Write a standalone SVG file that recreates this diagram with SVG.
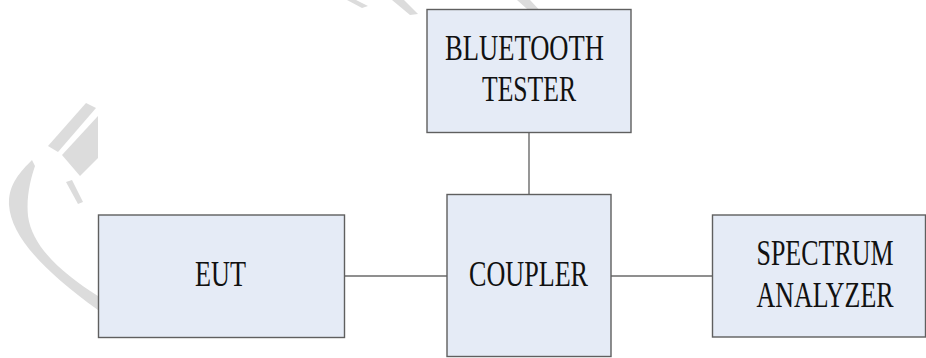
<svg xmlns="http://www.w3.org/2000/svg" width="926" height="358" viewBox="0 0 926 358">
<style>
.box{fill:#e5ebf6;stroke:#5f5f5f;stroke-width:1.4}
.wire{stroke:#6a6a6a;stroke-width:1.4;fill:none}
.lbl{font-family:"Liberation Serif","Times New Roman","DejaVu Serif",serif;font-size:36px;fill:#111111}
.wm{fill:#dcdcdc;stroke:none}
</style>
<rect width="926" height="358" fill="#ffffff"/>
<g id="watermark">
<path class="wm" d="M32,160 C20,172 8,185 9,205 C11,235 40,268 98,310 L98,296 C60,272 32,246 28,216 C26,196 31,178 35,166 Z"/>
<path class="wm" d="M48,146 L86,103 L96,108 L58,152 Z"/>
<path class="wm" d="M62,155 L98,116 L98,158 L80,176 Z"/>
<path class="wm" d="M66,182 L72,180 L83,202 L78,204 Z"/>
<path class="wm" d="M347,0 L356,0 L368,6 L362,8 Z"/>
<path class="wm" d="M392,0 L404,0 L418,14 L410,15 Z"/>
<path class="wm" d="M517,0 L530,0 L545,16 L536,17 Z"/>
</g>
<g id="connectors">
<line class="wire" x1="345" y1="276" x2="447" y2="276"/>
<line class="wire" x1="611" y1="276" x2="712.5" y2="276"/>
<line class="wire" x1="529" y1="132.5" x2="529" y2="194.5"/>
</g>
<g id="bluetooth-tester">
<rect class="box" x="427" y="9.5" width="204" height="123"/>
<text class="lbl" transform="translate(445 0) scale(0.72 1)" x="0" y="60" textLength="220.8" lengthAdjust="spacingAndGlyphs">BLUETOOTH</text>
<text class="lbl" transform="translate(482 0) scale(0.72 1)" x="0" y="101.5" textLength="130.6" lengthAdjust="spacingAndGlyphs">TESTER</text>
</g>
<g id="eut">
<rect class="box" x="98.5" y="215" width="246" height="122.5"/>
<text class="lbl" transform="translate(195 0) scale(0.72 1)" x="0" y="286" textLength="70.8" lengthAdjust="spacingAndGlyphs">EUT</text>
</g>
<g id="coupler">
<rect class="box" x="447" y="194.5" width="164" height="162"/>
<text class="lbl" transform="translate(469 0) scale(0.72 1)" x="0" y="286.5" textLength="165.3" lengthAdjust="spacingAndGlyphs">COUPLER</text>
</g>
<g id="spectrum-analyzer">
<rect class="box" x="712.5" y="215" width="213" height="122"/>
<text class="lbl" transform="translate(756.5 0) scale(0.72 1)" x="0" y="265.5" textLength="190.3" lengthAdjust="spacingAndGlyphs">SPECTRUM</text>
<text class="lbl" transform="translate(756.5 0) scale(0.72 1)" x="0" y="307" textLength="190.3" lengthAdjust="spacingAndGlyphs">ANALYZER</text>
</g>
</svg>
